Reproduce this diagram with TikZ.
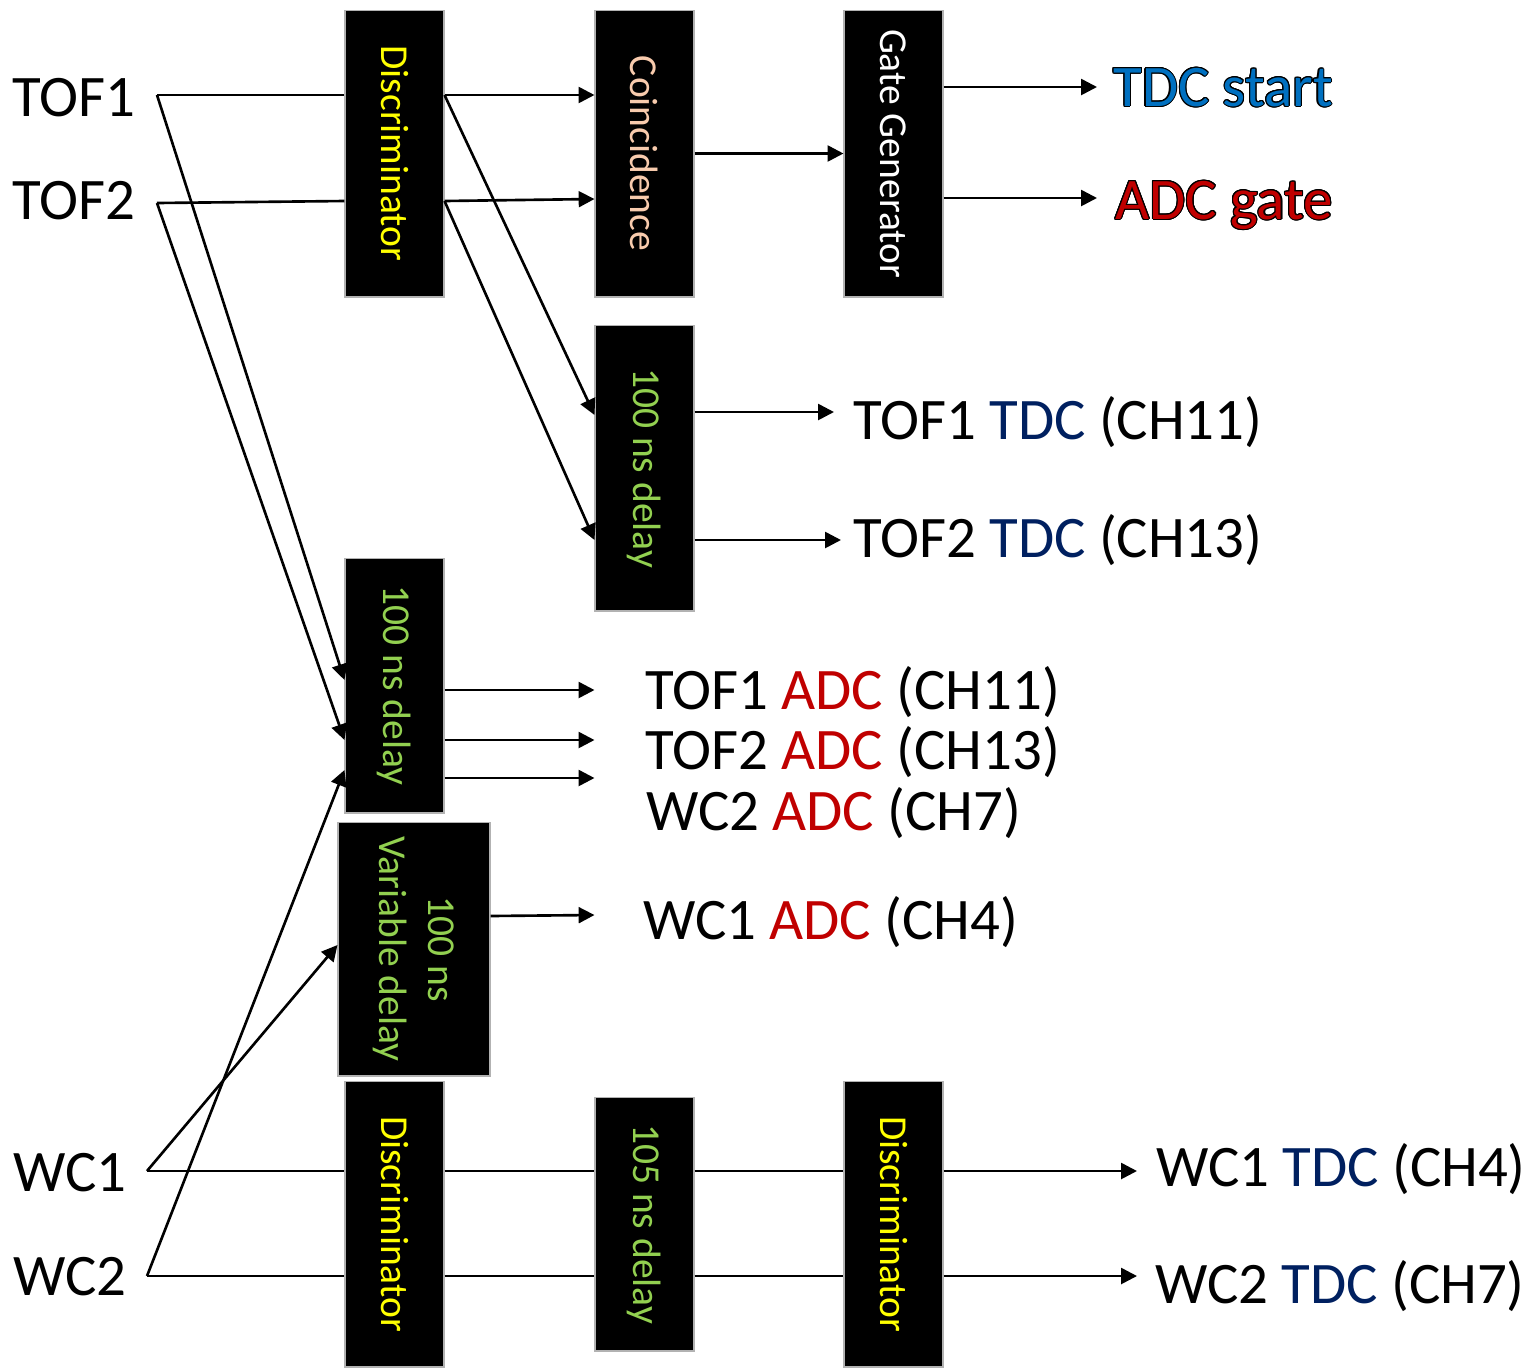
\documentclass[tikz,border=0pt]{standalone}
\usepackage{fontspec}
\setmainfont{Carlito}
\usepackage{graphicx}
\usepackage{contour}
\contourlength{0.6pt}
\usepackage{tikz}
\usetikzlibrary{arrows.meta}
\usetikzlibrary{positioning}
\definecolor{discyellow}{RGB}{255,255,0}
\definecolor{coinpeach}{RGB}{248,203,173}
\definecolor{delaygreen}{RGB}{146,208,80}
\definecolor{tdcblue}{RGB}{0,32,96}
\definecolor{startblue}{RGB}{0,112,192}
\definecolor{adcred}{RGB}{192,0,0}
\newcommand{\tdc}{\textcolor{tdcblue}{TDC}}
\newcommand{\adc}{\textcolor{adcred}{ADC}}
\tikzset{
  module/.style={fill=black, draw=gray!60, line width=0.6pt, inner sep=0pt,
    minimum width=1.98cm, minimum height=5.74cm, font=\fontsize{22.5}{28}\selectfont},
  disc/.style={module, text=discyellow},
  coinbox/.style={module, text=coinpeach},
  gatebox/.style={module, text=white},
  delaybox/.style={module, text=delaygreen},
  sig/.style={line width=1.5pt},
  arr/.style={sig, -{Triangle[length=9pt,width=9pt]}},
  lbl/.style={inner sep=0pt, anchor=west, text height=24pt, text depth=8pt,
    font=\fontsize{33.5}{40}\selectfont}
}

\begin{document}
\begin{tikzpicture}[x=0.02cm, y=-0.02cm]
\useasboundingbox (0,0) rectangle (1529,1367);
\node[disc] (disc1) at (394.5,153.5) {\rotatebox{-90}{Discriminator}};
\node[coinbox] (coin) at (644.5,153.5) {\rotatebox{-90}{Coincidence}};
\node[gatebox] (gate) at (893.5,153.5) {\rotatebox{-90}{Gate Generator}};
\node[delaybox, minimum height=5.72cm] (dtdc) at (644.5,468) {\rotatebox{-90}{100 ns delay}};
\node[delaybox, minimum height=5.1cm] (dadc) at (394.5,685.5) {\rotatebox{-90}{100 ns delay}};
\node[delaybox, minimum width=3.04cm, minimum height=5.08cm] (dvar) at (414,949)
  {\rotatebox{-90}{\begin{tabular}{@{}c@{}}100 ns\\Variable delay\end{tabular}}};
\node[disc, minimum height=5.72cm] (disc2) at (394.5,1224) {\rotatebox{-90}{Discriminator}};
\node[delaybox, minimum height=5.08cm] (dwc) at (644.5,1224) {\rotatebox{-90}{105 ns delay}};
\node[disc, minimum height=5.72cm] (disc3) at (893.5,1224) {\rotatebox{-90}{Discriminator}};

\node[lbl] (tof1) at (12,102) {TOF1};
\node[lbl] (tof2) at (12,205) {TOF2};
\node[lbl] (wc1) at (13,1177) {WC1};
\node[lbl] (wc2) at (13,1281) {WC2};
\node[lbl, text=startblue] (tdcstart) at (1113,92) {\contour{black}{TDC start}};
\node[lbl, text=adcred] (adcgate) at (1115,205) {\contour{black}{ADC gate}};
\node[lbl] (tof1tdc) at (853,425) {TOF1 \tdc{} (CH11)};
\node[lbl] (tof2tdc) at (853,543) {TOF2 \tdc{} (CH13)};
\node[lbl] (tof1adc) at (645,695) {TOF1 \adc{} (CH11)};
\node[lbl] (tof2adc) at (645,755) {TOF2 \adc{} (CH13)};
\node[lbl] (wc2adc) at (646,816) {WC2 \adc{} (CH7)};
\node[lbl] (wc1adc) at (643,925) {WC1 \adc{} (CH4)};
\node[lbl] (wc1tdc) at (1156,1172) {WC1 \tdc{} (CH4)};
\node[lbl] (wc2tdc) at (1155,1289) {WC2 \tdc{} (CH7)};

\coordinate (in1) at (157,95);
\coordinate (in2) at (157,203);
\coordinate (inw1) at (147,1171);
\coordinate (inw2) at (147,1276);
\coordinate (outstart) at (1097,87);
\coordinate (outgate) at (1097,198);
\coordinate (outt1) at (834,412);
\coordinate (outt2) at (841,540);
\coordinate (outw1) at (1137,1171);
\coordinate (outw2) at (1137,1276);

\draw[sig] (in1) -- (disc1.west |- in1);
\draw[sig] (in2) -- (disc1.west |- 0,201);
\draw[arr] (in1) -- (dadc.west |- 0,680);
\draw[arr] (in2) -- (dadc.west |- 0,740);
\draw[arr] (inw2) -- (dadc.west |- 0,770);
\draw[arr] (inw1) -- (dvar.west |- 0,945);
\draw[arr] (disc1.east |- in1) -- (coin.west |- in1);
\draw[arr] (disc1.east |- 0,201) -- (coin.west |- 0,199);
\draw[arr] (disc1.east |- in1) -- (dtdc.west |- 0,415);
\draw[arr] (disc1.east |- 0,201) -- (dtdc.west |- 0,540);
\draw[arr] (coin.east) -- (gate.west);
\draw[arr] (gate.east |- outstart) -- (outstart);
\draw[arr] (gate.east |- outgate) -- (outgate);
\draw[arr] (dtdc.east |- outt1) -- (outt1);
\draw[arr] (dtdc.east |- outt2) -- (outt2);
\draw[arr] (dadc.east |- 0,690) -- (coin.west |- 0,690);
\draw[arr] (dadc.east |- 0,740) -- (coin.west |- 0,740);
\draw[arr] (dadc.east |- 0,778) -- (coin.west |- 0,778);
\draw[arr] (dvar.east |- 0,916) -- (coin.west |- 0,915);
\draw[sig] (inw1) -- (disc2.west |- inw1);
\draw[sig] (inw2) -- (disc2.west |- inw2);
\draw[sig] (disc2.east |- inw1) -- (dwc.west |- inw1);
\draw[sig] (disc2.east |- inw2) -- (dwc.west |- inw2);
\draw[sig] (dwc.east |- inw1) -- (disc3.west |- inw1);
\draw[sig] (dwc.east |- inw2) -- (disc3.west |- inw2);
\draw[arr] (disc3.east |- outw1) -- (outw1);
\draw[arr] (disc3.east |- outw2) -- (outw2);
\end{tikzpicture}
\end{document}
